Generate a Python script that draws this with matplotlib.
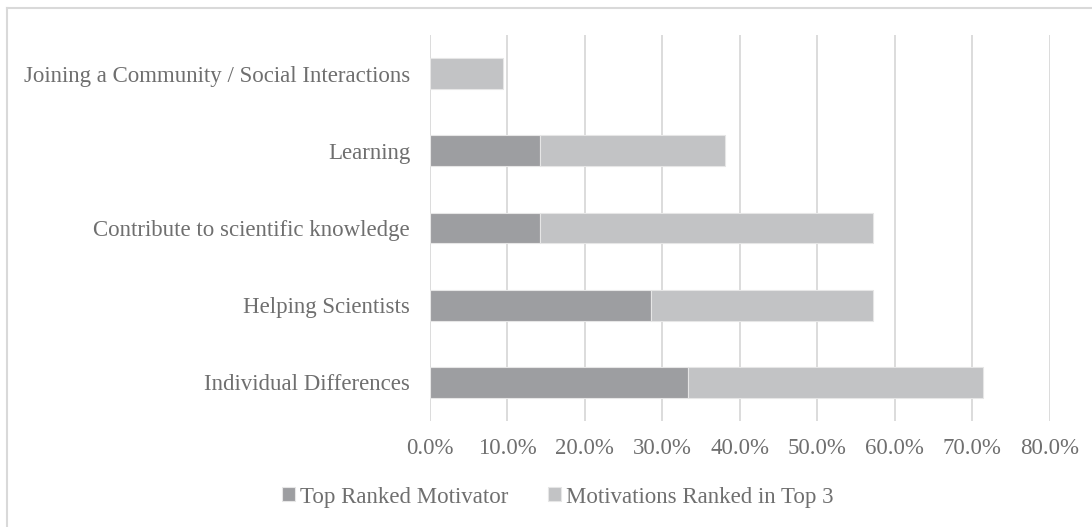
import matplotlib.pyplot as plt
from matplotlib.lines import Line2D
from matplotlib.ticker import PercentFormatter

# kategorie od dolu do gory
categories = ["Individual Differences", "Helping Scientists",
              "Contribute to scientific knowledge", "Learning",
              "Joining a Community / Social Interactions"]
top_ranked = [33.3, 28.6, 14.3, 14.3, 0.0]
ranked_top3 = [38.1, 28.6, 42.9, 23.8, 9.5]  # dokladane do top_ranked (stacked)
series_names = ["Top Ranked Motivator", "Motivations Ranked in Top 3"]
x_ticks = [0, 10, 20, 30, 40, 50, 60, 70, 80]

plt.rcParams['font.family'] = ['Liberation Serif', 'DejaVu Serif']
text_col = "#6f6f6f"
fs = 16.5

fig = plt.figure(figsize=(10.92, 5.27), dpi=100)
ax = fig.add_axes([429.5 / 1092, 1 - 421 / 527, (1050 - 429.5) / 1092, (421 - 35) / 527])

ypos = range(len(categories))
ax.barh(ypos, top_ranked, height=0.4, color="#9d9ea1", edgecolor="#e6e6e6",
        linewidth=0.8, label=series_names[0], zorder=3)
ax.barh(ypos, ranked_top3, left=top_ranked, height=0.4, color="#c2c3c5",
        edgecolor="#e6e6e6", linewidth=0.8, label=series_names[1], zorder=3)

ax.set_xlim(0, 80)
ax.set_ylim(-0.5, len(categories) - 0.5)
ax.set_xticks(x_ticks)
ax.xaxis.set_major_formatter(PercentFormatter(decimals=1))
ax.set_yticks(list(ypos))
ax.set_yticklabels(categories)
ax.tick_params(axis='both', length=0, labelsize=fs, labelcolor=text_col)
ax.tick_params(axis='x', pad=12)
ax.tick_params(axis='y', pad=14)
ax.grid(axis='x', color="#d9d9d9", linewidth=1.3, zorder=0)
for s in ax.spines.values():
    s.set_visible(False)

leg = fig.legend(loc='center', bbox_to_anchor=(558 / 1092, 1 - 497 / 527), ncol=2,
                 frameon=False, fontsize=fs, handlelength=0.55, handleheight=0.55,
                 handletextpad=0.22, columnspacing=1.75, labelcolor=text_col)

# ramka wykresu (tylko gora i lewa strona widoczne)
fig.add_artist(Line2D([7 / 1092, 7 / 1092], [0, 1 - 8 / 527], color="#d9d9d9", linewidth=1.5))
fig.add_artist(Line2D([7 / 1092, 1], [1 - 8 / 527, 1 - 8 / 527], color="#d9d9d9", linewidth=1.5))

fig.savefig("out.png", dpi=100)
